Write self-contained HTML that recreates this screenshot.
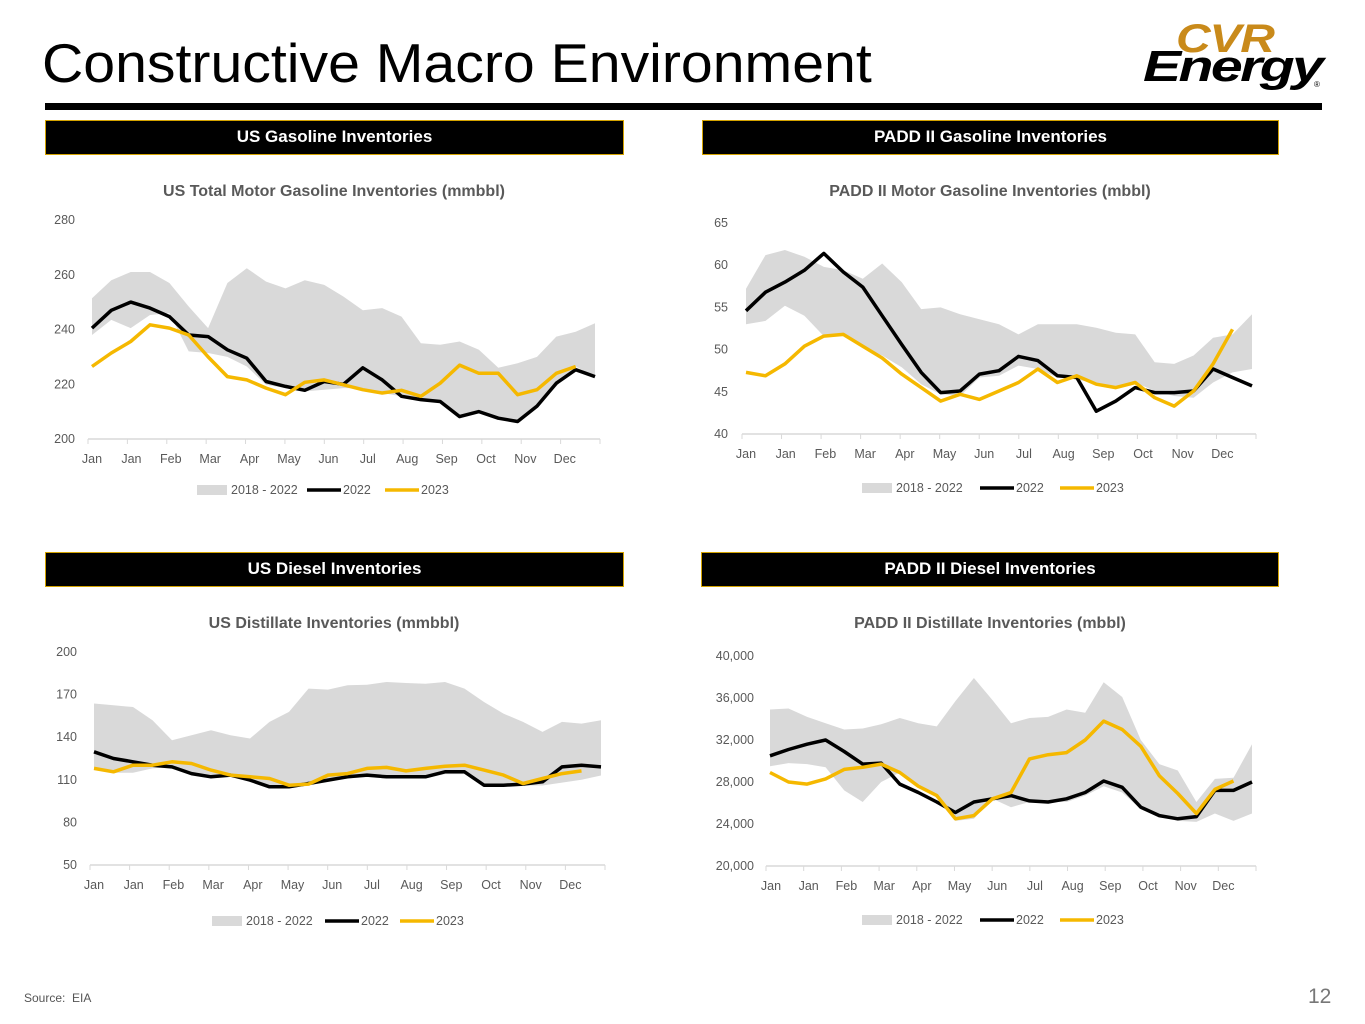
<!DOCTYPE html>
<html><head><meta charset="utf-8"><style>
body{margin:0;width:1365px;height:1024px;background:#fff;position:relative;overflow:hidden;font-family:"Liberation Sans",sans-serif}
.abs{position:absolute}
.sec{position:absolute;background:#000;border:1.5px solid #d4a300;color:#fff;font-weight:bold;font-size:17px;text-align:center;line-height:32px;box-sizing:border-box;height:35px}
svg text{font-family:"Liberation Sans",sans-serif}
</style></head><body>
<div class="abs" style="left:42px;top:31px;font-size:55px;color:#000;line-height:64px;transform:scaleX(1.04);transform-origin:left top">Constructive Macro Environment</div>
<div class="abs" style="left:45px;top:103px;width:1277px;height:7px;background:#000"></div>
<div class="abs" style="left:1140px;top:20px;width:185px;height:75px">
<div class="abs" style="left:36px;top:-3px;font-size:40px;font-weight:bold;font-style:italic;color:#c98a1a;letter-spacing:-1px;transform:scaleX(1.2);transform-origin:left top">CVR</div>
<div class="abs" style="left:3px;top:22px;font-size:44px;font-weight:bold;font-style:italic;color:#000;letter-spacing:-2px;transform:scaleX(1.3);transform-origin:left top">Energy</div>
<div class="abs" style="left:174px;top:60px;font-size:8px">®</div>
</div>
<div class="sec" style="left:45px;top:120px;width:579px">US Gasoline Inventories</div>
<div class="sec" style="left:702px;top:120px;width:577px">PADD II Gasoline Inventories</div>
<div class="sec" style="left:45px;top:552px;width:579px">US Diesel Inventories</div>
<div class="sec" style="left:701px;top:552px;width:578px">PADD II Diesel Inventories</div>
<div class="abs" style="left:24px;top:991px;font-size:12px;color:#555">Source:&nbsp; EIA</div>
<div class="abs" style="left:1308px;top:985px;font-size:21px;color:#777">12</div>
<svg id="charts" class="abs" style="left:0;top:0" width="1365" height="1024"></svg>
<script>
const months = ["Jan","Jan","Feb","Mar","Apr","May","Jun","Jul","Aug","Sep","Oct","Nov","Dec"];
// Chart 1: US gasoline (mmbbl)
const c1Ticks = [200,220,240,260,280];
const c1Hi = [251.4,258,261,261,257,248.4,240.5,257,262.4,257.5,255,258,256.3,252,247,247.8,244.7,235,234.4,235.6,232.6,226,227.7,230,237.4,239.2,242.3];
const c1Lo = [238,243.5,240.5,245.3,246,232,231.4,230,226.5,219.8,218.6,217.4,218,218.6,218.6,216.8,215.6,214.4,213.1,208.8,209.4,207.6,206.4,212,219.2,226.5,222.8];
const c1S22 = [240.5,247,250,247.8,244.7,238,237.4,232.6,229.5,221,219.2,217.8,221,220,226,221.6,215.6,214.4,213.7,208.2,210,207.6,206.4,212,220.4,225.3,222.8];
const c1S23 = [226.5,231.4,235.6,241.7,240.5,238,230,222.8,221.6,218.6,216.2,220.7,221.6,219.8,218,216.8,217.8,215.6,220.4,227,224,224,216.2,218,224,226.5];
// Chart 2: PADD II gasoline (mbbl)
const c2Ticks = [40,45,50,55,60,65];
const c2Hi = [57.2,61.2,61.8,61,59.8,59.4,58.4,60.2,58,54.8,55,54.2,53.6,53,51.8,53,53,53,52.6,52,51.8,48.5,48.3,49.3,51.4,51.8,54.2];
const c2Lo = [53,53.4,55.2,54,51.6,51.6,50.2,49.3,47.9,45.9,44.7,44.5,46.7,46.9,48.1,47.7,46.7,46.5,45.9,45.5,46.1,45.1,44.5,44.3,46.1,47.3,47.7];
const c2S22 = [54.6,56.8,58,59.4,61.4,59.2,57.4,54,50.6,47.3,44.9,45.1,47.1,47.5,49.2,48.7,46.9,46.7,42.7,43.9,45.5,44.9,44.9,45.1,47.7,46.7,45.7];
const c2S23 = [47.3,46.9,48.3,50.4,51.6,51.8,50.4,49,47.1,45.5,43.9,44.7,44.1,45.1,46.1,47.7,46.1,46.9,45.9,45.5,46.1,44.3,43.3,45.1,48.3,52.4];
// Chart 3: US distillate (mmbbl)
const c3Ticks = [50,80,110,140,170,200];
const c3Hi = [163.7,162.5,161.3,152,137.9,141.4,144.9,141.4,139.1,150.8,157.8,174.2,173.5,176.6,177,178.9,178.2,177.7,178.9,174.2,164.8,156.6,150.8,143.7,150.8,149.6,152];
const c3Lo = [118,115,115,118,119,114,112,112,109,104,104,106,109,111,112,111,111,111,114,114,105,105,106,106,108,110,113];
const c3S22 = [129.7,125,122.7,120.3,119.1,114.4,112.1,113.3,109.8,105.1,105.1,107.4,109.8,112.1,113.3,112.1,112.1,112.1,115.6,115.6,106.2,106.2,107,108.6,119.1,120.3,119.1];
const c3S23 = [118,115.6,120.3,120.3,122.7,121.5,116.8,113.3,112.1,110.9,106.2,107,113.3,114.4,118,118.7,116.3,118,119.6,120.3,116.8,113.3,107.4,110.9,114.4,116.3];
// Chart 4: PADD II distillate (thousand bbl)
const c4Ticks = [20,24,28,32,36,40];
const c4Hi = [34.9,35,34.2,33.6,33,33.1,33.5,34.1,33.6,33.3,35.7,37.9,35.8,33.6,34.1,34.2,34.9,34.6,37.5,36.1,32,29.7,29.1,26.1,28.3,28.4,31.6];
const c4Lo = [29.5,29.8,29.7,29.4,27.2,26.1,28,28.9,27.6,26.7,24.3,24.5,26.4,25.6,26.1,26.1,26.1,26.7,27.6,27,25.4,24.7,24.3,24.2,25,24.3,25];
const c4S22 = [30.5,31.1,31.6,32,30.9,29.7,29.8,27.8,27,26.1,25.1,26.1,26.4,26.7,26.2,26.1,26.4,27,28.1,27.5,25.6,24.8,24.5,24.7,27.2,27.2,28];
const c4S23 = [28.9,28,27.8,28.3,29.2,29.4,29.7,28.9,27.6,26.7,24.5,24.8,26.4,27,30.2,30.6,30.8,32,33.8,33,31.4,28.6,26.9,25,27.3,28.1];

const NS="http://www.w3.org/2000/svg";
const svg=document.getElementById('charts');
function mk(tag,attrs,parent){const e=document.createElementNS(NS,tag);for(const k in attrs)e.setAttribute(k,attrs[k]);(parent||svg).appendChild(e);return e;}
function fmt(v,thousands){return thousands?(v*1000).toLocaleString('en-US'):String(v);}

function drawChart(cfg){
  const g=mk('g',{});
  
  
  const vmin=cfg.ticks[0], vmax=cfg.ticks[cfg.ticks.length-1];
  const yS=v=>cfg.yb-(v-vmin)/(vmax-vmin)*(cfg.yb-cfg.yt);
  const n=cfg.hi.length;
  const xS=i=>cfg.lx0+i*(cfg.lx1-cfg.lx0)/(n-1);
  const t=mk('text',{x:cfg.tx,y:cfg.ty,'text-anchor':'middle','font-size':'16','font-weight':'bold',fill:'#595959'},g);
  t.textContent=cfg.title;
  
  
  let d='';
  cfg.hi.forEach((v,i)=>{d+=(i?'L':'M')+xS(i).toFixed(1)+','+yS(v).toFixed(1);});
  for(let i=n-1;i>=0;i--)d+='L'+xS(i).toFixed(1)+','+yS(cfg.lo[i]).toFixed(1);
  const band=mk('path',{d:d+'Z',fill:'#d9d9d9'},g);
  
  
  mk('line',{x1:cfg.ax0,x2:cfg.ax1,y1:cfg.yb,y2:cfg.yb,stroke:'#d9d9d9','stroke-width':1.5},g);
  const step=(cfg.ax1-cfg.ax0)/13;
  for(let k=0;k<=13;k++){const x=cfg.ax0+k*step;mk('line',{x1:x,x2:x,y1:cfg.yb,y2:cfg.yb+5,stroke:'#d9d9d9','stroke-width':1},g);}
  months.forEach((m,k)=>{
    const tx=mk('text',{x:cfg.mx0+k*cfg.mstep,y:cfg.yb+24,'text-anchor':'middle','font-size':'12.5',fill:'#595959'},g);
    tx.textContent=m;
    
    
  });
  cfg.ticks.forEach(v=>{
    const tx=mk('text',{x:cfg.ylx,y:yS(v)+4,'text-anchor':'end','font-size':'12.5',fill:'#595959'},g);
    tx.textContent=fmt(v,cfg.thousands);
    
    
  });
  [[cfg.s22,'#000','series-2022'],[cfg.s23,'#f5b800','series-2023']].forEach(([arr,col,nm])=>{
    const pts=arr.map((v,i)=>xS(i).toFixed(1)+','+yS(v).toFixed(1)).join(' ');
    const pl=mk('polyline',{points:pts,fill:'none',stroke:col,'stroke-width':3.5,'stroke-linejoin':'round'},g);
    
    
  });
  const L=cfg.leg, ly=cfg.legY;
  const lg=mk('g',{},g);
  
  
  mk('rect',{x:L[0],y:ly-5,width:30,height:10,fill:'#d9d9d9'},lg);
  const a=mk('text',{x:L[0]+34,y:ly+4,'font-size':'12.5',fill:'#595959'},lg);a.textContent='2018 - 2022';
  mk('line',{x1:L[1],x2:L[1]+34,y1:ly,y2:ly,stroke:'#000','stroke-width':3.5},lg);
  const b=mk('text',{x:L[1]+36,y:ly+4,'font-size':'12.5',fill:'#595959'},lg);b.textContent='2022';
  mk('line',{x1:L[2],x2:L[2]+34,y1:ly,y2:ly,stroke:'#f5b800','stroke-width':3.5},lg);
  const c=mk('text',{x:L[2]+36,y:ly+4,'font-size':'12.5',fill:'#595959'},lg);c.textContent='2023';
}

drawChart({name:'us-gasoline-chart',title:'US Total Motor Gasoline Inventories (mmbbl)',tx:334,ty:196,ticks:c1Ticks,hi:c1Hi,lo:c1Lo,s22:c1S22,s23:c1S23,yt:220,yb:439,ax0:88,ax1:600,lx0:92,lx1:595,mx0:92,mstep:39.4,ylx:75,leg:[197,307,385],legY:490});
drawChart({name:'padd2-gasoline-chart',title:'PADD II Motor Gasoline Inventories (mbbl)',tx:990,ty:196,ticks:c2Ticks,hi:c2Hi,lo:c2Lo,s22:c2S22,s23:c2S23,yt:223,yb:434,ax0:742,ax1:1256,lx0:746,lx1:1252,mx0:746,mstep:39.7,ylx:728,leg:[862,980,1060],legY:488});
drawChart({name:'us-diesel-chart',title:'US Distillate Inventories (mmbbl)',tx:334,ty:628,ticks:c3Ticks,hi:c3Hi,lo:c3Lo,s22:c3S22,s23:c3S23,yt:652,yb:865,ax0:90,ax1:605,lx0:94,lx1:601,mx0:94,mstep:39.7,ylx:77,leg:[212,325,400],legY:921});
drawChart({name:'padd2-diesel-chart',title:'PADD II Distillate Inventories (mbbl)',tx:990,ty:628,ticks:c4Ticks,hi:c4Hi,lo:c4Lo,s22:c4S22,s23:c4S23,yt:656,yb:866,ax0:766,ax1:1256,lx0:770,lx1:1252,mx0:771,mstep:37.7,ylx:754,thousands:true,leg:[862,980,1060],legY:920});
</script>
</body></html>
